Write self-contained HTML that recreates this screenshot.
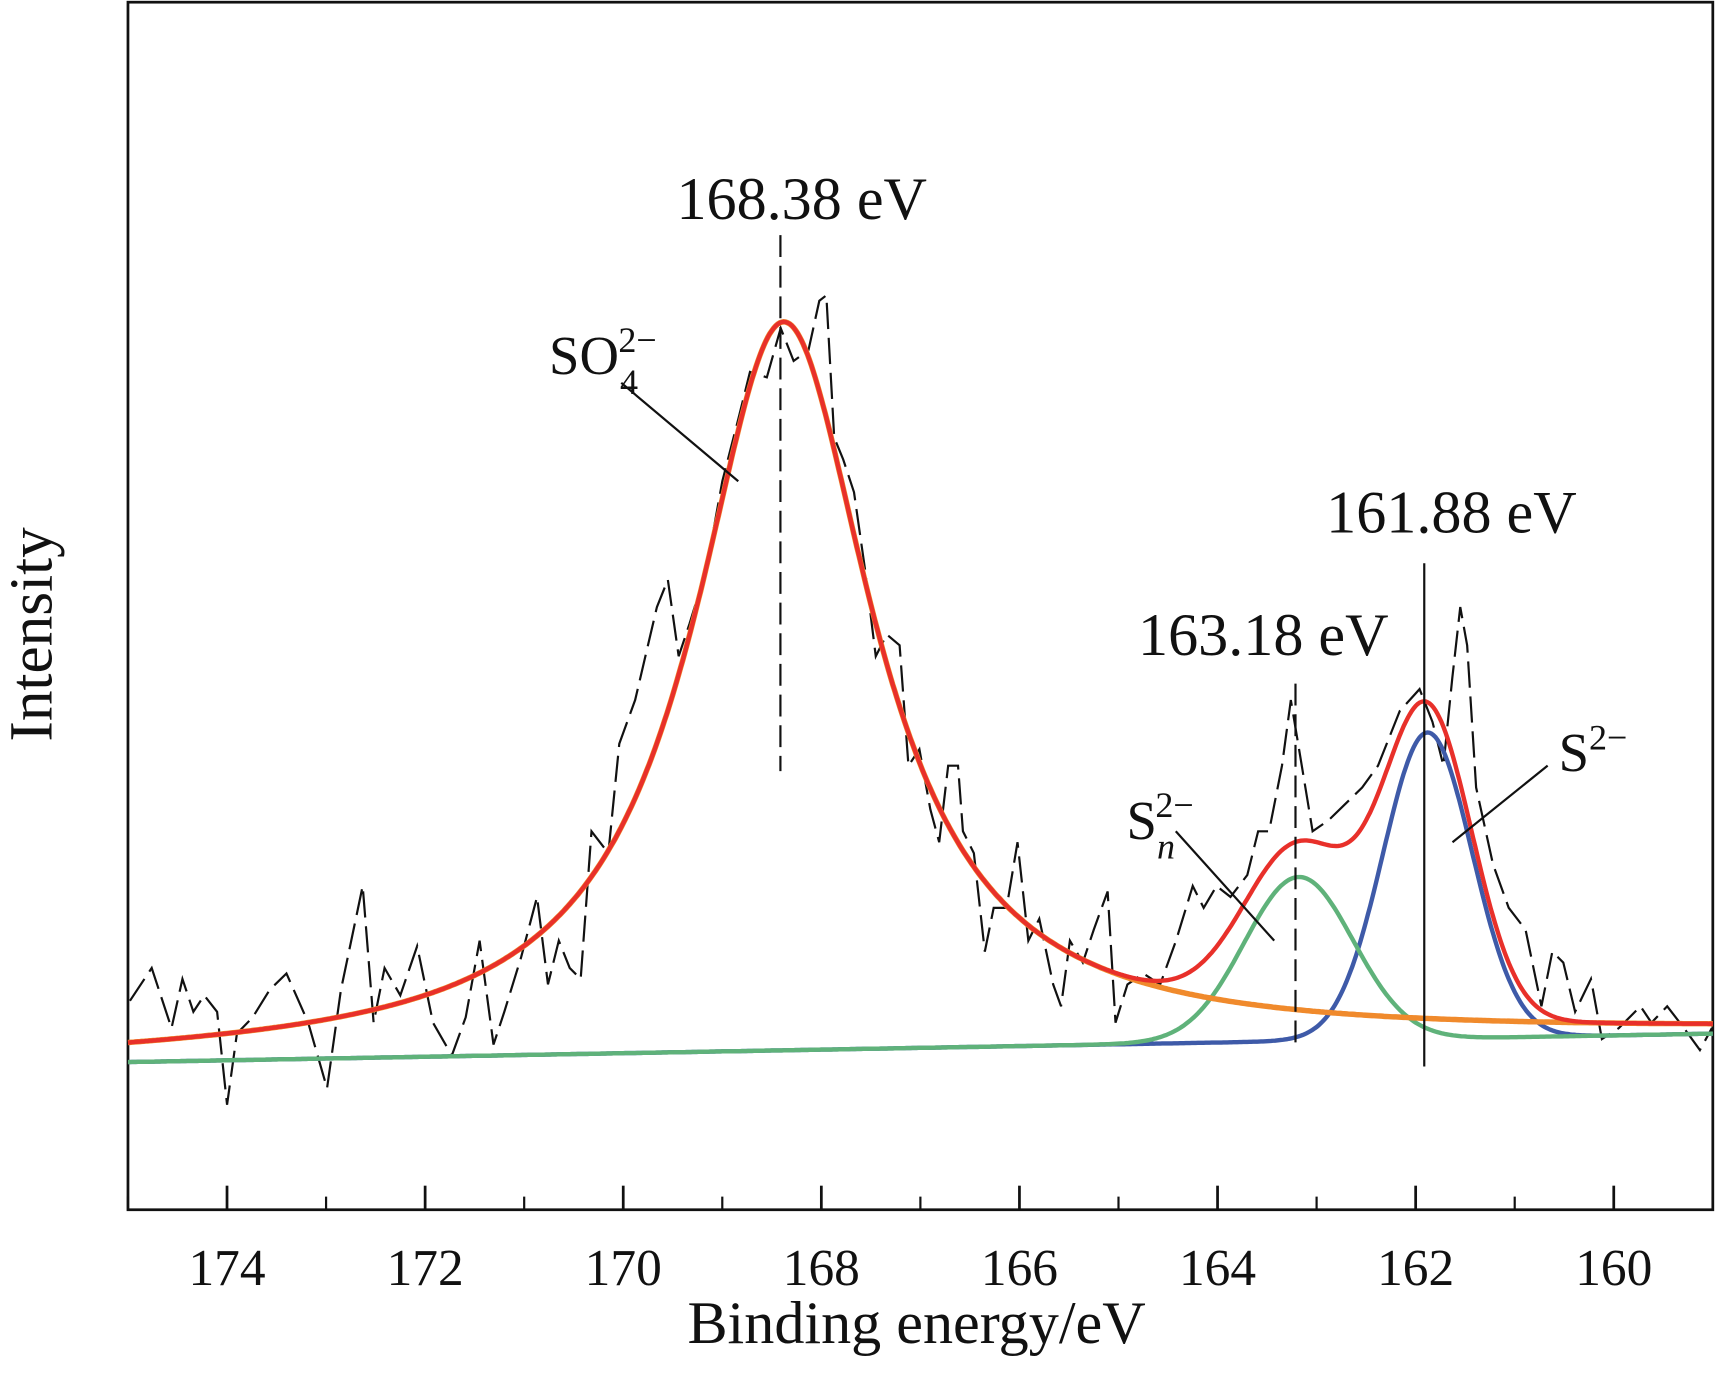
<!DOCTYPE html>
<html><head><meta charset="utf-8"><style>
html,body{margin:0;padding:0;background:#fff}
svg{display:block}
text{font-family:"Liberation Serif",serif;fill:#111}
</style></head><body>
<svg id="chart" width="1715" height="1376" viewBox="0 0 1568 1258" preserveAspectRatio="none" xmlns="http://www.w3.org/2000/svg">
<rect x="117" y="2" width="1449" height="1104" fill="none" stroke="#111" stroke-width="2.5"/>
<g id="ticks"></g>
<g id="marks"></g>
<g>
<text x="733" y="200" font-size="55" text-anchor="middle">168.38 eV</text>
<text x="1327" y="487" font-size="55" text-anchor="middle">161.88 eV</text>
<text x="1155" y="599" font-size="55" text-anchor="middle">163.18 eV</text>
<text x="502" y="342" font-size="50">SO<tspan dx="1" dy="18" font-size="33">4</tspan><tspan dx="-18" dy="-38" font-size="33">2−</tspan></text>
<line x1="568" y1="350" x2="675" y2="440" stroke="#111" stroke-width="2"/>
<text x="1030" y="767" font-size="50">S<tspan dy="18" font-size="33" font-style="italic">n</tspan><tspan dx="-18" dy="-38" font-size="33">2−</tspan></text>
<line x1="1075" y1="760" x2="1165" y2="860" stroke="#111" stroke-width="2"/>
<text x="1425" y="705" font-size="50">S<tspan dy="-20" font-size="33">2−</tspan></text>
<line x1="1415" y1="700" x2="1328" y2="770" stroke="#111" stroke-width="2"/>
<text x="838" y="1228" font-size="55" text-anchor="middle">Binding energy/eV</text>
<text transform="translate(47,580) rotate(-90)" font-size="56" text-anchor="middle">Intensity</text>
</g>
</svg>
<script>
const energies=[174.98,174.76,174.56,174.45,174.34,174.23,174.10,174.00,173.90,173.74,
173.57,173.40,173.18,172.99,172.85,172.63,172.52,172.41,172.25,172.08,
171.92,171.73,171.59,171.45,171.31,171.20,171.03,170.87,170.76,170.65,
170.54,170.43,170.32,170.15,170.04,169.88,169.66,169.55,169.44,169.33,
169.16,169.00,168.83,168.72,168.55,168.41,168.28,168.13,168.02,167.95,
167.87,167.78,167.67,167.56,167.45,167.34,167.21,167.12,167.01,166.90,
166.81,166.72,166.62,166.57,166.46,166.35,166.26,166.13,166.02,165.91,
165.80,165.66,165.58,165.49,165.36,165.25,165.11,165.03,164.91,164.75,
164.58,164.42,164.25,164.14,164.01,163.87,163.70,163.59,163.48,163.35,
163.26,163.15,163.04,162.88,162.71,162.54,162.38,162.16,161.96,161.83,
161.72,161.63,161.55,161.48,161.39,161.22,161.06,160.89,160.73,160.62,
160.51,160.39,160.23,160.12,159.95,159.73,159.62,159.46,159.29,159.13,159.01];
const counts=[191,221,166,211,181,196,181,96,161,176,
201,216,171,111,201,296,171,221,196,241,
171,141,176,246,151,181,231,286,206,246,
221,211,346,326,426,466,551,576,506,536,
586,666,726,766,761,806,776,786,831,836,
706,686,656,586,506,526,516,406,421,366,
336,406,406,346,326,236,276,276,336,246,
266,206,186,246,226,256,291,171,206,216,
206,246,296,276,296,286,306,346,346,406,
466,406,346,356,371,386,406,456,476,446,
406,486,551,516,386,316,276,256,186,236,
226,181,211,156,166,186,171,186,166,146,166];
const tickValues=[174,172,170,168,166,164,162,160];
const minorTicks=[175,173,171,169,167,165,163,161,159];
const peakCenters=[168.38,163.18,161.88];
const peakHeights=[666,150,280];
const peakWidths=[1.1,0.55,0.45];
const baselineEnds=[135,161];
const xDomain=[175,159], yDomain=[0,1104];
const NS="http://www.w3.org/2000/svg";
function X(e){return 117+(xDomain[0]-e)/(xDomain[0]-xDomain[1])*1449;}
function Y(v){return 1106-(v-yDomain[0])/(yDomain[1]-yDomain[0])*1104;}
function base(e){return baselineEnds[0]+(xDomain[0]-e)/(xDomain[0]-xDomain[1])*(baselineEnds[1]-baselineEnds[0]);}
function lor(e){const d=(e-peakCenters[0])/peakWidths[0];return peakHeights[0]/(1+d*d);}
function gau(i,e){const d=(e-peakCenters[i])/peakWidths[i];return peakHeights[i]*Math.exp(-0.5*d*d);}
const ticks=document.getElementById('ticks');
tickValues.forEach(t=>{
 const l=document.createElementNS(NS,'line');
 
 
 l.setAttribute('x1',X(t));l.setAttribute('x2',X(t));l.setAttribute('y1',1106);l.setAttribute('y2',1084);
 l.setAttribute('stroke','#111');l.setAttribute('stroke-width','2.5');ticks.appendChild(l);
 const tx=document.createElementNS(NS,'text');
 
 
 tx.setAttribute('x',X(t));tx.setAttribute('y',1175);tx.setAttribute('font-size','47');tx.setAttribute('text-anchor','middle');
 tx.textContent=t;ticks.appendChild(tx);
});
minorTicks.forEach(t=>{
 const l=document.createElementNS(NS,'line');
 
 
 l.setAttribute('x1',X(t));l.setAttribute('x2',X(t));l.setAttribute('y1',1106);l.setAttribute('y2',1094);
 l.setAttribute('stroke','#111');l.setAttribute('stroke-width','2');ticks.appendChild(l);
});
const marks=document.getElementById('marks');
function path(fn,color,w,name){
 let d='';for(let e=xDomain[0];e>=xDomain[1]-0.001;e-=0.02){d+=(d?'L':'M')+X(e).toFixed(1)+','+Y(fn(e)).toFixed(1);}
 const p=document.createElementNS(NS,'path');
 
 
 p.setAttribute('d',d);p.setAttribute('fill','none');p.setAttribute('stroke',color);p.setAttribute('stroke-width',w);
 marks.appendChild(p);
}
let rd='';energies.forEach((e,i)=>{rd+=(i?'L':'M')+X(e).toFixed(1)+','+Y(counts[i]).toFixed(1);});
const raw=document.createElementNS(NS,'path');


raw.setAttribute('d',rd);raw.setAttribute('fill','none');raw.setAttribute('stroke','#111');raw.setAttribute('stroke-width','2');raw.setAttribute('stroke-dasharray','24,8');
marks.appendChild(raw);
path(e=>base(e)+gau(2,e),'#3e5aa8',4,'s2-fit-curve');
path(e=>base(e)+gau(1,e),'#5fb27a',4,'sn-fit-curve');
path(e=>base(e)+lor(e),'#f08a2c',5,'so4-fit-curve');
path(e=>base(e)+lor(e)+gau(1,e)+gau(2,e),'#e8302a',4,'envelope-fit-curve');
[[0,215,705,'20,8','ref-line-168'],[1,625,955,'20,8','ref-line-163'],[2,515,975,'','ref-line-161']].forEach(r=>{
 const l=document.createElementNS(NS,'line');
 
 
 const xx=X(peakCenters[r[0]])-3;
 l.setAttribute('x1',xx);l.setAttribute('x2',xx);l.setAttribute('y1',r[1]);l.setAttribute('y2',r[2]);
 l.setAttribute('stroke','#111');l.setAttribute('stroke-width','2');if(r[3])l.setAttribute('stroke-dasharray',r[3]);
 marks.appendChild(l);
});
</script>
</body></html>
